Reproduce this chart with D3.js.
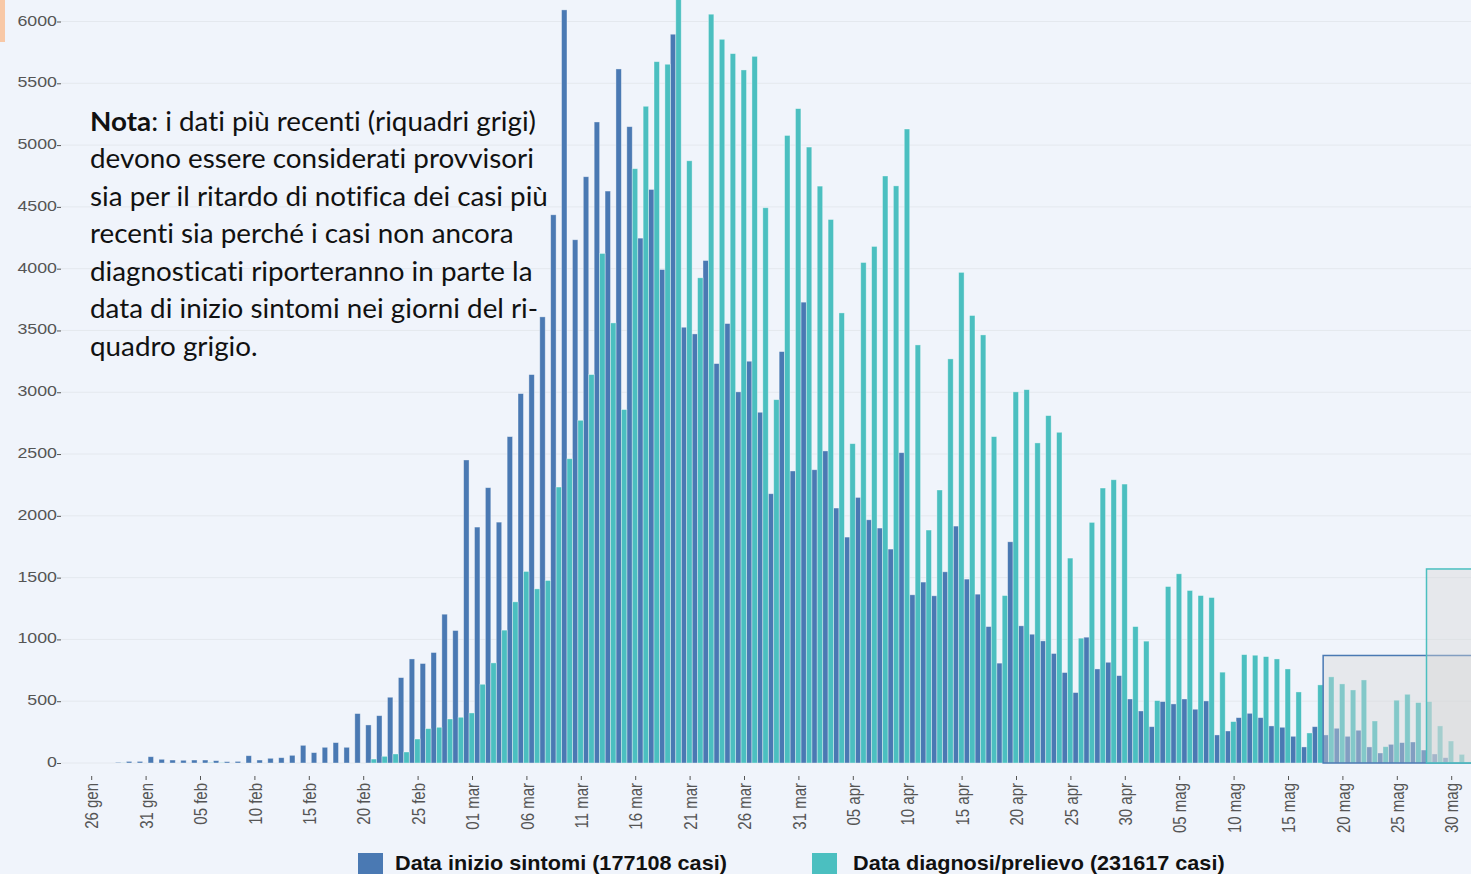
<!DOCTYPE html>
<html>
<meta charset="utf-8">
<script src="https://d3js.org/d3.v7.min.js"></script>
<style>
body { margin: 0; background: #f0f4fb; overflow: hidden; }
</style>
<body>
<script>

var W = 1471, H = 874;
var blu = "#4a79b3", verde = "#4bbfc0";

// giorni dal 26 gennaio
var startDay = new Date(2020, 0, 26);
var nDays = 127;
var fmt = d3.timeFormat("%Y-%m-%d");
var days = d3.timeDay.range(startDay, d3.timeDay.offset(startDay, nDays)).map(fmt);

var tickLabels = ["26 gen","31 gen","05 feb","10 feb","15 feb","20 feb","25 feb","01 mar","06 mar","11 mar",
  "16 mar","21 mar","26 mar","31 mar","05 apr","10 apr","15 apr","20 apr","25 apr","30 apr",
  "05 mag","10 mag","15 mag","20 mag","25 mag","30 mag"];
var yTicks = [0,500,1000,1500,2000,2500,3000,3500,4000,4500,5000,5500,6000];

// Data inizio sintomi
var sintomi = [0,0,5,13,13,51,30,24,22,24,24,19,11,13,59,24,38,43,62,143,
  84,127,165,127,400,308,383,532,691,842,805,894,1204,1072,2452,1909,2228,1949,2641,2989,
  3143,3610,4436,6094,4234,4744,5187,4628,5616,5149,4247,4641,3993,5897,3526,3472,4066,3232,3556,3003,
  3251,2838,2179,3329,2363,3729,2373,2525,2063,1828,2149,1968,1901,1731,2511,1361,1464,1353,1547,1917,
  1488,1366,1104,808,1790,1110,1042,988,886,732,570,1018,761,815,707,518,421,294,497,478,
  518,435,502,227,259,367,402,367,300,289,216,130,294,227,281,216,265,130,81,151,
  165,170,105,73,43,0,0];

// Data diagnosi/prelievo
var diagnosi = [0,0,1,0,0,0,0,0,0,0,3,2,0,0,0,0,0,0,0,0,
  0,0,0,0,0,32,54,73,89,194,278,289,356,370,405,637,810,1075,1304,1550,
  1409,1477,2233,2462,2773,3143,4123,3561,2860,4809,5314,5675,5654,6250,4873,3926,6059,5856,5740,5608,
  5718,4493,2940,5078,5295,4984,4668,4398,3642,2584,4050,4180,4750,4670,5130,3383,1885,2209,3270,3970,
  3621,3464,2641,1355,3003,3021,2590,2811,2676,1658,1010,1947,2225,2292,2257,1104,986,505,1428,1531,
  1396,1355,1339,735,335,877,872,861,842,761,575,243,632,697,640,591,672,340,132,508,
  556,489,497,300,178,70,0];

// riquadri grigi (dati provvisori)
var riquadroSerie = ["sintomi", "diagnosi"];
var riquadroDa = ["2020-05-18", "2020-05-27"];
var riquadroMax = [870, 1570];

var svg = d3.select("body").append("svg")
  .attr("width", W)
  .attr("height", H)
  .style("display", "block");

svg.append("rect").attr("width", W).attr("height", H).attr("fill", "#f0f4fb");
svg.append("rect").attr("x", 0).attr("y", 0).attr("width", 5).attr("height", 42).attr("fill", "#f8c8a6");

var step = 10.88;
var x = d3.scaleBand()
  .domain(days)
  .range([93.7, 93.7 + nDays * step])
  .padding(0);
var bw = x.bandwidth() / 2;

var y = d3.scaleLinear()
  .domain([0, 6000])
  .range([763, 21.5]);

// griglia
svg.append("g").selectAll("line")
  .data(yTicks)
  .enter().append("line")
  .attr("x1", 61).attr("x2", W)
  .attr("y1", d => y(d)).attr("y2", d => y(d))
  .attr("stroke", "#e4e8ee")
  .attr("stroke-width", 1);

// asse y
var yAx = d3.axisLeft(y).tickValues(yTicks).tickFormat(d3.format("d")).tickSize(4).tickPadding(0);
var yGroup = svg.append("g")
  .attr("transform", "translate(61,0)")
  .call(yAx);
yGroup.select(".domain").remove();
yGroup.selectAll("line").attr("stroke", "#555");
yGroup.selectAll("text")
  .attr("x", -4 / 1.27)
  .attr("dy", "0.25em")
  .attr("transform", "scale(1.27,1)")
  .attr("fill", "#555")
  .style("font-family", "'Liberation Sans', Arial, sans-serif")
  .style("font-size", "14px");

// barre
svg.append("g").selectAll("rect")
  .data(days)
  .enter().append("rect")
  .attr("x", d => x(d))
  .attr("y", (d, i) => y(sintomi[i]))
  .attr("width", bw)
  .attr("height", (d, i) => y(0) - y(sintomi[i]))
  .attr("fill", blu)
  .attr("stroke", "rgba(255,255,255,0.45)")
  .attr("stroke-width", 0.8);

svg.append("g").selectAll("rect")
  .data(days)
  .enter().append("rect")
  .attr("x", d => x(d) + bw)
  .attr("y", (d, i) => y(diagnosi[i]))
  .attr("width", bw)
  .attr("height", (d, i) => y(0) - y(diagnosi[i]))
  .attr("fill", verde)
  .attr("stroke", "rgba(255,255,255,0.45)")
  .attr("stroke-width", 0.8);

// riquadri grigi
riquadroSerie.forEach(function(s, k) {
  var x0 = x(riquadroDa[k]) + (s == "diagnosi" ? bw : 0);
  svg.append("rect")
    .attr("x", x0)
    .attr("y", y(riquadroMax[k]))
    .attr("width", W + 20 - x0)
    .attr("height", y(0) - y(riquadroMax[k]))
    .attr("fill", "rgba(215,215,215,0.4)")
    .attr("stroke", s == "diagnosi" ? verde : blu)
    .attr("stroke-width", 1.5);
});

// asse x
var tickKeys = tickLabels.map((t, i) => days[i * 5]);
var xAx = d3.axisBottom(x)
  .tickValues(tickKeys)
  .tickFormat((d, i) => tickLabels[i])
  .tickSize(4);
var xGroup = svg.append("g")
  .attr("transform", "translate(" + (-bw - 2) + ",776)")
  .call(xAx);
xGroup.select(".domain").remove();
xGroup.selectAll("line").attr("stroke", "#555");
xGroup.selectAll("text")
  .attr("x", -7)
  .attr("y", 0)
  .attr("dy", "0.35em")
  .attr("text-anchor", "end")
  .attr("transform", "scale(1.27,1) rotate(-90)")
  .attr("fill", "#555")
  .style("font-family", "'Liberation Sans', Arial, sans-serif")
  .style("font-size", "15px");

// nota
var notaRighe = [
  ": i dati più recenti (riquadri grigi)",
  "devono essere considerati provvisori",
  "sia per il ritardo di notifica dei casi più",
  "recenti sia perché i casi non ancora",
  "diagnosticati riporteranno in parte la",
  "data di inizio sintomi nei giorni del ri-",
  "quadro grigio."
];
var nota = svg.append("text")
  .attr("transform", "translate(90,131) scale(1.07,1)")
  .attr("fill", "#111")
  .style("font-family", "Lato, 'Open Sans', sans-serif")
  .style("font-size", "26px")
  .style("font-variant-ligatures", "none");
notaRighe.forEach(function(r, i) {
  if (i == 0) {
    nota.append("tspan").attr("x", 0).attr("dy", 0).style("font-weight", "bold").text("Nota");
    nota.append("tspan").text(r);
  } else {
    nota.append("tspan").attr("x", 0).attr("dy", 37.5).text(r);
  }
});

// legenda
var legNomi = ["Data inizio sintomi (177108 casi)", "Data diagnosi/prelievo (231617 casi)"];
var legCol = [blu, verde];
var legX = [358, 812];
var legTx = [395, 853];
legNomi.forEach(function(n, i) {
  svg.append("rect")
    .attr("x", legX[i]).attr("y", 853)
    .attr("width", 25).attr("height", 25)
    .attr("fill", legCol[i]);
  svg.append("text")
    .attr("transform", "translate(" + legTx[i] + ",870) scale(1.11,1)")
    .attr("fill", "#111")
    .style("font-family", "'Liberation Sans', Arial, sans-serif")
    .style("font-weight", "bold")
    .style("font-size", "19.5px")
    .text(n);
});

</script>
</body>
</html>
